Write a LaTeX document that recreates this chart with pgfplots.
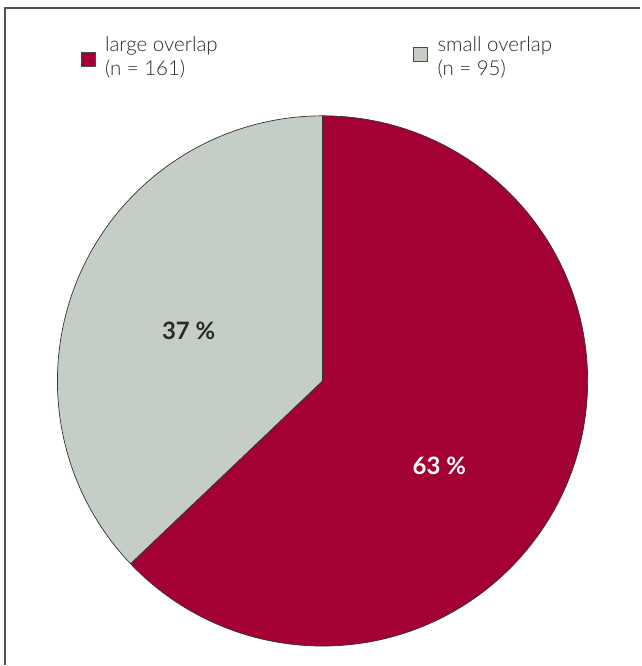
\documentclass[border=0pt]{standalone}
\usepackage{pgfplots}
\pgfplotsset{compat=1.18}
\usepackage{fontspec}
\setmainfont{Lato}
\newfontfamily\lightfont{Lato}[UprightFont={* Light}]
\definecolor{pieRed}{HTML}{A30034}
\definecolor{pieGray}{HTML}{C4CEC6}
\definecolor{txt}{HTML}{2A2A2A}
\definecolor{frame}{HTML}{505050}
\begin{document}
\begin{tikzpicture}
\def\nlarge{161}
\def\nsmall{95}
\pgfmathsetmacro\fracLarge{\nlarge/(\nlarge+\nsmall)}
\pgfmathsetmacro\angSplit{90-360*\fracLarge}
\pgfmathsetmacro\angGrayEnd{\angSplit-360*(1-\fracLarge)}
\pgfmathsetmacro\sx{265.5*cos(\angSplit)}
\pgfmathsetmacro\sy{265.5*sin(\angSplit)}
\def\R{265.5}
\begin{axis}[
  x=1pt, y=1pt, scale only axis,
  xmin=-323, xmax=318, ymin=-284.5, ymax=381.5,
  hide axis, clip=false,
]
\path (axis cs:-323,-284.5) rectangle (axis cs:318,381.5);
% frame
\draw[line width=2pt, frame] (axis cs:-318,-284.5) -- (axis cs:-318,373.5) -- (axis cs:318,373.5);
% pie
\filldraw[fill=pieRed, draw=black!80, line width=0.7pt] (axis cs:0,0) -- (axis cs:0,\R) arc[start angle=90, end angle=\angSplit, radius=\R pt] -- cycle;
\filldraw[fill=pieGray, draw=black!80, line width=0.7pt] (axis cs:0,0) -- (axis cs:\sx,\sy) arc[start angle=\angSplit, end angle=\angGrayEnd, radius=\R pt] -- cycle;
% labels
\node[font=\fontsize{24}{28}\selectfont\bfseries, text=txt] at (axis cs:-134,50.5) {37 \%};
\node[font=\fontsize{24}{28}\selectfont\bfseries, text=white] at (axis cs:117,-85.5) {63 \%};
% legend
\filldraw[fill=pieRed, draw=black!70, line width=0.6pt] (axis cs:-242,315.5) rectangle (axis cs:-228,329.5);
\node[anchor=base west, inner sep=0pt, font=\fontsize{20.5}{24}\lightfont, text=txt] at (axis cs:-218,329.5) {large overlap};
\node[anchor=base west, inner sep=0pt, font=\fontsize{20.5}{24}\lightfont, text=txt] at (axis cs:-218,305.5) {(n = 161)};
\filldraw[fill=pieGray, draw=black!70, line width=0.6pt] (axis cs:90.5,320) rectangle (axis cs:104.5,334);
\node[anchor=base west, inner sep=0pt, font=\fontsize{20.5}{24}\lightfont, text=txt] at (axis cs:115,329.5) {small overlap};
\node[anchor=base west, inner sep=0pt, font=\fontsize{20.5}{24}\lightfont, text=txt] at (axis cs:115,305.5) {(n = 95)};
\end{axis}
\end{tikzpicture}
\end{document}
